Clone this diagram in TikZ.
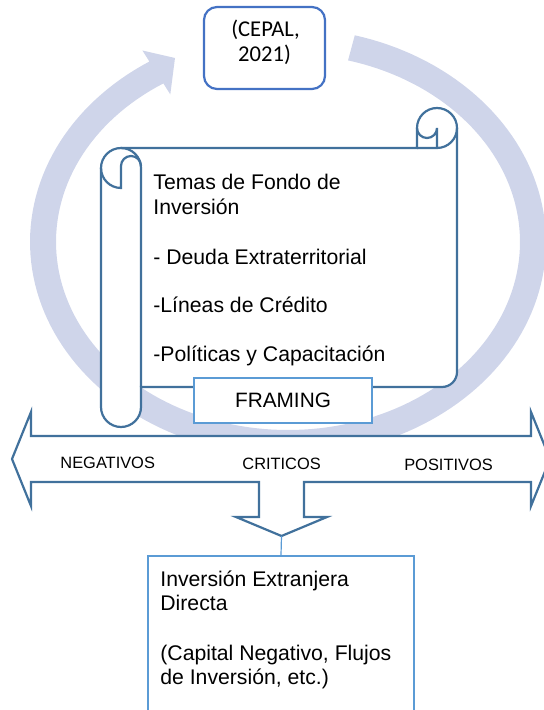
\documentclass[tikz,border=0pt]{standalone}
\usepackage{fontspec}
\setmainfont{Liberation Sans}
\newfontfamily\cepalfont{Carlito}
\usepackage{tikz}

\definecolor{ringblue}{RGB}{207,213,234}
\definecolor{scrollblue}{RGB}{65,113,156}
\definecolor{cepalblue}{RGB}{68,114,196}
\definecolor{boxblue}{RGB}{91,155,213}

\begin{document}
\begin{tikzpicture}[x=0.5pt, y=-0.5pt,
  scrollline/.style={draw=scrollblue, line width=1.1pt},
  bigtext/.style={anchor=base west, inner sep=0pt, font=\fontsize{10.6}{13}\selectfont},
  arrowtext/.style={anchor=base, inner sep=0pt, font=\fontsize{8.2}{10}\selectfont},
  cepaltext/.style={anchor=base, inner sep=0pt, font=\cepalfont\fontsize{11.3}{13}\selectfont},
  cepalbox/.style={draw=cepalblue, line width=1.1pt, rounded corners=6.5pt, fill=white,
    minimum width=60.5pt, minimum height=41pt, inner sep=0pt},
  lightbox/.style={draw=boxblue, line width=1.1pt, fill=white, inner sep=0pt}]
\useasboundingbox (0,0) rectangle (544,710);
%ring
\fill[ringblue] plot[domain=75:-237.5, samples=160] ({288+258*cos(\x)},{242-214*sin(\x)})
  -- (142.4,50.5) -- (175,58) -- (170.3,94.4)
  -- plot[domain=-237.5:75, samples=160] ({288+232*cos(\x)},{242-188*sin(\x)}) -- cycle;
%scroll
\filldraw[scrollline, fill=white] (101,168) arc[start angle=180, end angle=90, radius=10pt]
  -- (417,148) -- (417,128) arc[start angle=180, end angle=0, radius=10pt]
  -- (457,372) arc[start angle=0, end angle=-90, radius=7.5pt]
  -- (141,387) -- (141,407) arc[start angle=0, end angle=-180, radius=10pt] -- cycle;
\draw[scrollline] (121,148) arc[start angle=90, end angle=0, radius=10pt] -- (141,387);
\draw[scrollline] (101,168) arc[start angle=180, end angle=270, radius=10pt]
  -- (121,166) arc[start angle=180, end angle=0, radius=5pt];
\draw[scrollline] (417,148) -- (437,148) arc[start angle=-90, end angle=0, radius=10pt];
\draw[scrollline] (417,128) arc[start angle=180, end angle=360, radius=5pt] -- (437,148);
\node[bigtext] (temasA) at (153,189.3) {Temas de Fondo de};
\node[bigtext] (temasB) at (153,215) {Inversión};
\node[bigtext] (deuda) at (153,265) {- Deuda Extraterritorial};
\node[bigtext] (lineas) at (153,312.7) {-Líneas de Crédito};
\node[bigtext] (politicas) at (153,361.7) {-Políticas y Capacitación};
\node[lightbox, minimum width=89pt, minimum height=22.5pt,
  font=\fontsize{10.4}{12}\selectfont] (framing) at (283,400.5) {FRAMING};
%arrows
\filldraw[scrollline, fill=white] (12,459) -- (31,412) -- (31,436) -- (531,436) -- (531,412)
  -- (550,459) -- (531,506) -- (531,482) -- (304,482) -- (304,517) -- (327,517)
  -- (281.5,536) -- (236,517) -- (259,517) -- (259,482) -- (31,482) -- (31,506) -- cycle;
\coordinate (downtip) at (281.5,536);
\node[arrowtext] (negativos) at (107.7,468.5) {NEGATIVOS};
\node[arrowtext] (criticos) at (281.6,469.5) {CRITICOS};
\node[arrowtext] (positivos) at (448.5,470) {POSITIVOS};
%source
\node[cepalbox] (cepal) at (264.5,48) {};
\node[cepaltext] (cepalA) at (265.5,37) {(CEPAL,};
\node[cepaltext] (cepalB) at (264.5,62) {2021)};
%result
\node[lightbox, minimum width=133pt, minimum height=102pt] (ied) at (281,658) {};
\draw[boxblue, line width=0.6pt] (downtip) -- (ied.north);
\node[bigtext] (iedA) at (160,586) {Inversión Extranjera};
\node[bigtext] (iedB) at (160,610.7) {Directa};
\node[bigtext] (capA) at (160,660) {(Capital Negativo, Flujos};
\node[bigtext] (capB) at (160,684) {de Inversión, etc.)};
\end{tikzpicture}
\end{document}
